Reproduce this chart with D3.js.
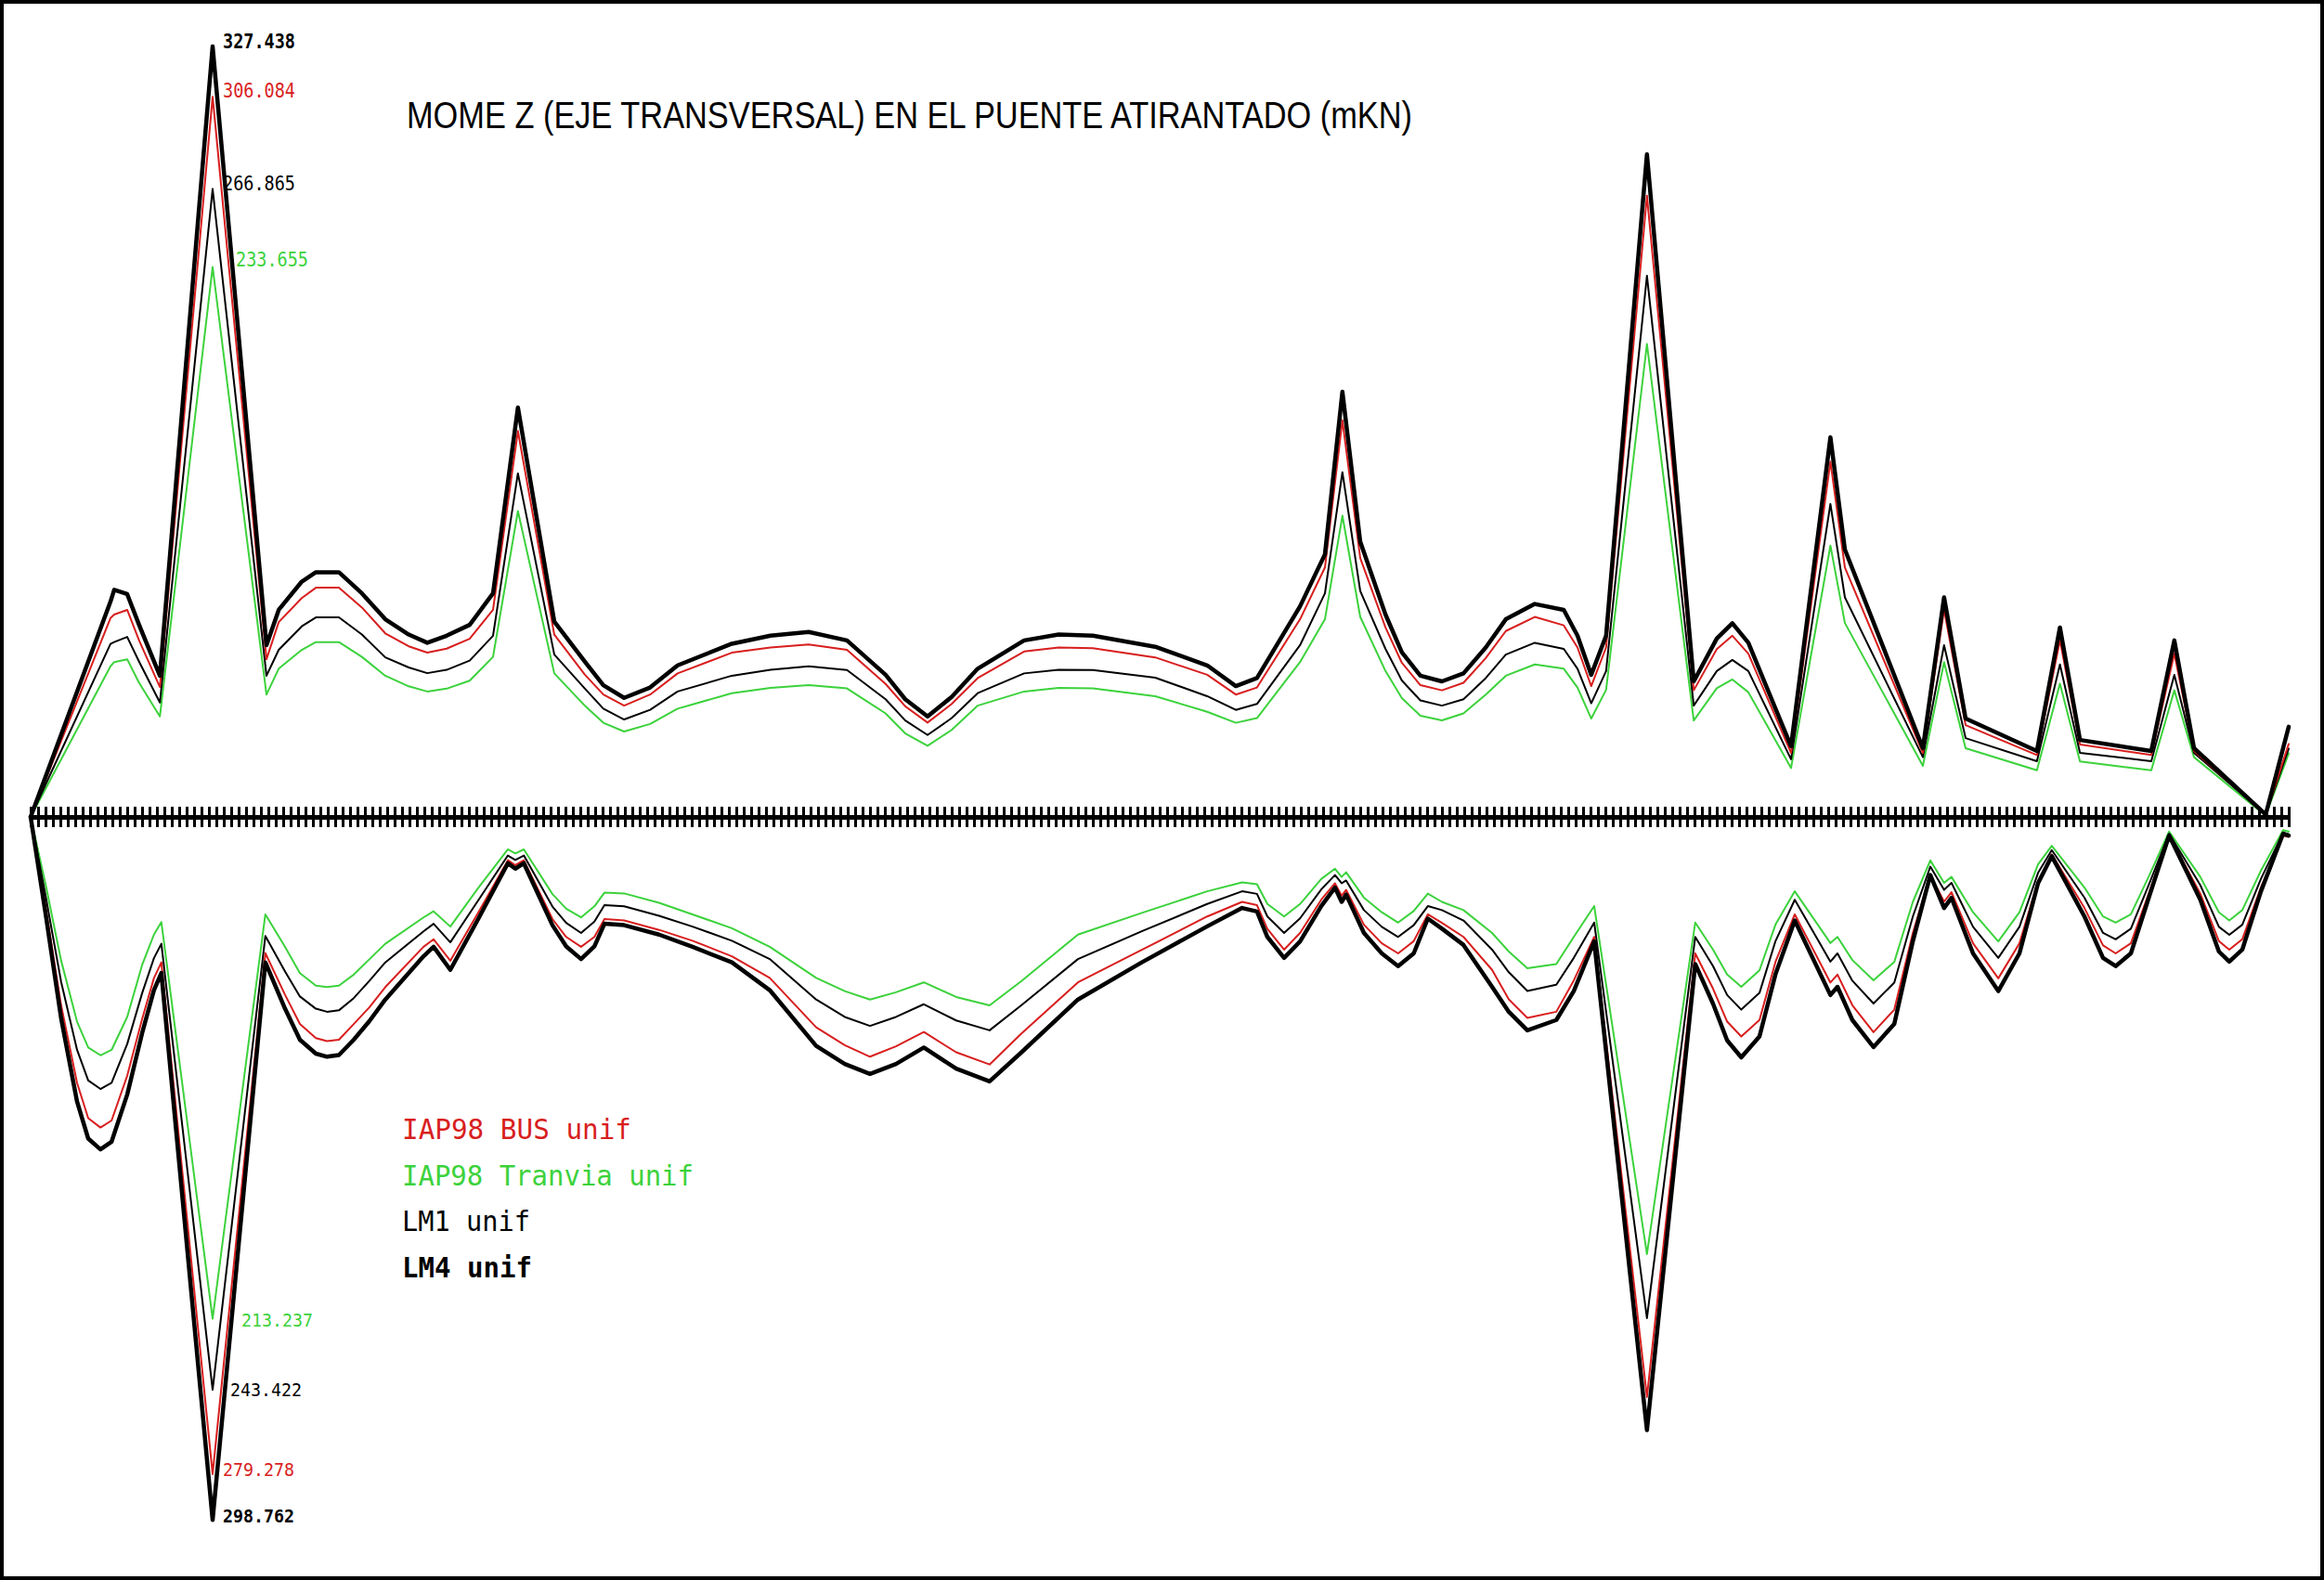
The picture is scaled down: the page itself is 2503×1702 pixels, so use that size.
<!DOCTYPE html>
<html><head><meta charset="utf-8">
<script src="https://cdn.jsdelivr.net/npm/d3@7"></script>
<style>html,body{margin:0;padding:0;background:#fff;} svg{display:block;}</style>
</head><body>
<svg id="chart" width="2503" height="1702"></svg>
<script>
// ---------------- DATA ----------------
const chartTitle = "MOME Z (EJE TRANSVERSAL) EN EL PUENTE ATIRANTADO (mKN)";
const seriesNames = ["IAP98 BUS unif", "IAP98 Tranvia unif", "LM1 unif", "LM4 unif"];
const nodeCount = 304;   // number of element divisions along the deck

// Positive envelope (max) – station in node units
const topStation = [0,10.75,11.25,13,14.6,17.4,24.5,31.75,33.4,36.5,38.4,41.5,44.6,47.75,50.9,53.4,56,59.1,62.25,65.6,70.5,74.6,77.1,79.9,83.4,87.1,94.4,99.6,104.75,109.9,115.1,117.75,120.75,124,127.5,133.75,138.4,143,151.4,158.4,162.25,165.1,170.9,174.25,176.6,179,182.4,184.6,187.1,190,192.9,195.9,198.6,202.5,206.4,208.25,210.1,212.1,217.6,223.9,227,229.1,231.25,237,242.3,244.25,254.75,257.6,260.5,270.1,273.2,275.9,285.5,288.6,291.25,300.9,304];
const topLM4 = [0,91.5,96.5,94.7,81.6,60,327.438,73,88,100,104,104,95,84,77.5,74,77,81.6,95,174,83,66,56,50.6,55,64.4,73.6,77,78.6,75,60.4,50,42.7,51,63,75,77.5,77,72.3,64.4,55.6,59,89.5,111.6,180.7,117,86,70,60,57.6,61,72,84,90.5,88,77,60.4,77,281.6,57.6,75.8,82.3,74,30,161.3,113.6,29.2,93.3,41.8,28,80.5,32.7,28,75,29.2,1,38.3];
const topBUS = [0,84.5,86,88,75,55.2,306.084,67,82.8,93,97.4,97.4,89,78,72.5,69.8,71.5,75.7,88,164,77.5,60.5,52,47.3,52,61,69.8,72,73.3,71,56.5,47,40.1,48,59,70.3,72,71.7,67.8,60.4,52,55,84,106,168.6,110,80.5,65.5,56,53.8,57,67.5,79,85,81.4,72,55.6,72,264,53.8,71.3,77,69.4,27.2,151,106,27.2,88,39,26.3,75,30.8,26.3,69.4,28,1,31];
const topLM1 = [0,73.5,74.3,76.5,66,48.6,266.865,60,71,81,84.8,84.8,77.5,67.8,63.5,61.1,62.5,66.4,77,146,69,54.6,46,41.4,45.5,53.3,60,62.5,64,62.4,50,41,34.8,42,52.6,61,62.5,62.4,59.2,51.3,45.5,48,73,95,146.5,96,71.4,58,49.5,47.3,50,59,69,74,71.4,63,48.3,62,230,47.3,62,66.7,62,24.5,133,93.3,25.4,73,33.5,23.7,64.8,27.2,23.7,60.4,27.2,1,29];
const topTranvia = [0,64,65.8,67,57,42.7,233.655,52,63,71,74.3,74.3,68,60,55.5,53.3,54.5,57.9,68,130,61,47.3,40,36.3,39.5,46,52.6,54.8,56,54.6,44,35.5,30.2,37,47.3,53.3,54.8,54.6,51.3,44.7,40,42,65.8,84,128,85,62,50.5,43,41,44,52,60,64.8,63,55,41.8,54,201,41,54.7,58.4,53,20.8,115.3,82.4,21.7,65.8,29.2,19.8,56.6,23.6,19.8,53.8,25.4,0.5,27];

// Negative envelope (min)
const botStation = [0,2.1,4.1,6.25,7.75,9.4,10.9,13,15,16.6,17.6,24.5,31.6,34.25,36.25,38.4,39.9,41.5,43.5,45.6,47.75,52.9,54.25,56.5,60.25,64.25,65.25,66.4,70.25,72.1,74.1,75.9,77.25,79.9,84.6,89.1,94.4,99.5,105.75,109.6,113,116.5,120.25,124.6,129.1,133.4,141,149.6,158.4,163.1,165.1,166.5,168.75,170.9,173.75,175.6,176.5,177.1,179.5,181.9,184.1,186.2,188.1,190,192.9,196.75,199,201.5,205.4,207.75,210.5,217.6,224.1,226.5,228.4,230.3,232.75,234.9,237.5,242.3,243.25,245.25,248.1,250.9,253.4,255.75,257.6,258.6,261.5,264.9,267.75,270.25,272.1,276.5,279,280.7,282.75,285.25,287.9,292.1,294.6,296,297.75,300.25,303.25,304];
const botLM4 = [0,-43,-85.5,-121,-136.7,-141.3,-138,-118,-92,-73.6,-66.3,-298.762,-61.8,-81.5,-94.7,-100.6,-101.9,-101.2,-94.7,-86.8,-77.6,-59.2,-55.2,-65,-43.4,-19.7,-22,-19.7,-46,-55,-60.4,-55,-45.4,-46,-50,-55.2,-61.8,-73.6,-97.3,-105,-109.2,-105,-98,-107,-112.4,-100,-77.6,-61.8,-46.5,-38.7,-40.2,-51,-59.9,-52.9,-37.9,-30,-36.1,-33,-49.3,-58,-63.4,-58,-43.2,-47.5,-54.4,-72.2,-82.8,-90.7,-86.3,-74,-52.9,-260.6,-62.5,-79.4,-95,-102.2,-93.3,-66.9,-44,-75.7,-72.2,-86.3,-97.8,-88,-52.8,-24.7,-38.7,-34.4,-58,-74,-58,-28.2,-16.7,-42.3,-59.9,-63.4,-58,-33.5,-7.9,-35.2,-57.2,-61.5,-56.4,-31.7,-7.1,-7.9];
const botBUS = [0,-40,-80,-113,-128,-132,-129,-110,-86,-68.5,-61.8,-279.278,-57.9,-75.6,-88,-94,-95.3,-94.7,-88,-80.9,-72.3,-55.2,-52,-61.1,-40.7,-18.4,-20.5,-18.4,-43.4,-51,-55.2,-51,-43.4,-44,-48,-52.6,-59.2,-68.4,-89.4,-97,-101.9,-97.5,-91.4,-100,-105.2,-92,-70.3,-56.5,-42.3,-36.1,-37.5,-47.6,-56.4,-49.3,-35.2,-28.2,-33.5,-31,-45.8,-53.7,-58,-52.8,-41.4,-45,-51,-65,-77.5,-85.4,-82.8,-69.5,-51,-246.5,-58,-73,-87,-93.3,-86.3,-61.6,-41.4,-70.4,-67,-80,-91.5,-81.9,-49.3,-24.7,-36,-32,-53.7,-68.6,-53.7,-27.3,-15.9,-38.7,-54.6,-58,-53.7,-31.7,-7.9,-32.6,-52.8,-56.4,-52,-30,-8,-8.5];
const botLM1 = [0,-35,-70,-99,-112,-115.6,-113,-96.5,-75,-60,-53.9,-243.422,-50.6,-65.7,-76.3,-81.5,-82.8,-82.2,-77,-69.7,-61.8,-48.6,-45.4,-53.3,-35.5,-16.4,-18.3,-16.4,-38.1,-45,-49.3,-44.5,-37.5,-38,-42,-46.6,-52.6,-60.4,-77.6,-85,-88.8,-85,-79.6,-86.5,-90.7,-80,-60.4,-48.6,-37,-31.6,-32.7,-42.3,-49.3,-43.1,-30.8,-24.7,-28.2,-27,-39.6,-46.7,-51,-46,-37.9,-39.6,-44,-56.4,-66,-74,-71.3,-59.9,-44.9,-213,-51,-63.4,-75.7,-81.9,-74.8,-52.8,-35.2,-61.5,-58,-69.6,-79.3,-70.4,-42.3,-21.1,-31,-28,-46.7,-59.9,-46.7,-23.8,-14.1,-34.3,-49.3,-52,-47.5,-28.2,-7.1,-29,-46.7,-50.1,-45.8,-26.4,-6.8,-7.4];
const botTranvia = [0,-30,-61,-87,-98,-101.3,-99,-85,-63,-50,-44.7,-213.237,-41.4,-55.2,-66.4,-71.7,-72.3,-71.7,-67,-60.5,-53.9,-42.7,-40.1,-46.6,-30.2,-13.8,-15.5,-13.8,-32.8,-39,-42.7,-38,-32.2,-32.5,-36.5,-41.4,-47.3,-55.2,-68.4,-74,-77.6,-74.5,-70.3,-76.5,-80.1,-69.7,-50,-40.8,-31.6,-27.8,-28.6,-37,-42.3,-37,-26.4,-22,-25.5,-23.5,-34.3,-40.5,-44.9,-40,-32.6,-36.1,-39.6,-49.3,-57.2,-64.3,-62.5,-51,-37.9,-185.8,-44.9,-56.4,-67,-72.2,-65.2,-45.8,-31.6,-53.6,-51,-60.8,-69.4,-61.6,-36.1,-18.5,-28,-25.5,-40.5,-52.9,-40.5,-20.2,-12.3,-30,-42.3,-44.9,-41.4,-24.7,-6.2,-25.5,-40.5,-44,-39.6,-22.9,-5.6,-6.2];

// Extreme value labels (at the first pylon)
const extremeStation = 24.5;
const topExtremeLabels = ["327.438", "306.084", "266.865", "233.655"];
const topExtremeValues = [327.438, 306.084, 266.865, 233.655];
const botExtremeLabels = ["213.237", "243.422", "279.278", "298.762"];
const botExtremeValues = [-213.237, -243.422, -279.278, -298.762];

// ---------------- DRAW ----------------
const W = 2503, H = 1702;
const svg = d3.select("#chart");
svg.append("rect").attr("width", W).attr("height", H).attr("fill", "#fff");

const x = d3.scaleLinear().domain([0, nodeCount]).range([33, 2465]);
const y = d3.scaleLinear().domain([0, 327.438]).range([880, 50]);

const RED = "#d81e1e", GREEN = "#3cd23c", BLACK = "#000";
const styles = {
  "IAP98 BUS unif": {color: RED, width: 2},
  "IAP98 Tranvia unif": {color: GREEN, width: 2},
  "LM1 unif": {color: BLACK, width: 2},
  "LM4 unif": {color: BLACK, width: 4.5}
};

const topSeries = {
  "IAP98 BUS unif": topBUS, "IAP98 Tranvia unif": topTranvia,
  "LM1 unif": topLM1, "LM4 unif": topLM4
};
const botSeries = {
  "IAP98 BUS unif": botBUS, "IAP98 Tranvia unif": botTranvia,
  "LM1 unif": botLM1, "LM4 unif": botLM4
};

const line = d3.line().x(d => x(d[0])).y(d => y(d[1]));
const drawOrder = ["IAP98 Tranvia unif", "LM1 unif", "IAP98 BUS unif", "LM4 unif"];
const gLines = svg.append("g");
drawOrder.forEach(name => {
  const st = styles[name];
  [[topStation, topSeries[name]], [botStation, botSeries[name]]].forEach(([xs, vs]) => {
    gLines.append("path")
      .datum(d3.zip(xs, vs))
      .attr("d", line).attr("fill", "none")
      .attr("stroke", st.color).attr("stroke-width", st.width)
      .attr("stroke-linejoin", "round").attr("stroke-linecap", "round");
  });
});

// Deck axis with node ticks
const axis = d3.axisBottom(x).tickValues(d3.range(0, nodeCount + 1))
  .tickSize(11).tickSizeOuter(0).tickFormat("");
const gAxis = svg.append("g").attr("transform", `translate(0,${y(0)})`).call(axis);
gAxis.select(".domain").attr("stroke", "#000").attr("stroke-width", 5);
gAxis.selectAll(".tick line").attr("y1", -11).attr("y2", 11)
  .attr("stroke", "#000").attr("stroke-width", 3);

// Title
svg.append("text").text(chartTitle)
  .attr("x", 438).attr("y", 138)
  .attr("font-family", "'Liberation Sans', Arial, sans-serif")
  .attr("font-size", 41).attr("fill", "#000")
  .attr("textLength", 1083).attr("lengthAdjust", "spacingAndGlyphs");

// Extreme labels
const mono = "'DejaVu Sans Mono', 'Liberation Mono', monospace";
const topLabelStyle = [
  {color: BLACK, weight: "bold", dx: 11, dy: 2},
  {color: RED, weight: "normal", dx: 11, dy: 1},
  {color: BLACK, weight: "normal", dx: 11, dy: 1},
  {color: GREEN, weight: "normal", dx: 25, dy: -1}
];
topExtremeLabels.forEach((t, i) => {
  const s = topLabelStyle[i];
  svg.append("text").text(t)
    .attr("x", x(extremeStation) + s.dx).attr("y", y(topExtremeValues[i]) + s.dy)
    .attr("font-family", mono).attr("font-size", 22).attr("font-weight", s.weight)
    .attr("fill", s.color)
    .attr("textLength", 78).attr("lengthAdjust", "spacingAndGlyphs");
});
const botLabelStyle = [
  {color: GREEN, weight: "normal", dx: 31, dy: 8},
  {color: BLACK, weight: "normal", dx: 19, dy: 7},
  {color: RED, weight: "normal", dx: 11, dy: 2},
  {color: BLACK, weight: "bold", dx: 11, dy: 3}
];
botExtremeLabels.forEach((t, i) => {
  const s = botLabelStyle[i];
  svg.append("text").text(t)
    .attr("x", x(extremeStation) + s.dx).attr("y", y(botExtremeValues[i]) + s.dy)
    .attr("font-family", mono).attr("font-size", 19).attr("font-weight", s.weight)
    .attr("fill", s.color)
    .attr("textLength", 77).attr("lengthAdjust", "spacingAndGlyphs");
});

// Legend
const legendLen = {"IAP98 BUS unif": 247, "IAP98 Tranvia unif": 314, "LM1 unif": 138, "LM4 unif": 140};
seriesNames.forEach((name, i) => {
  const st = styles[name];
  svg.append("text").text(name)
    .attr("x", 433).attr("y", 1227 + i * 49.5)
    .attr("font-family", mono).attr("font-size", 31)
    .attr("font-weight", name === "LM4 unif" ? "bold" : "normal")
    .attr("fill", st.color)
    .attr("textLength", legendLen[name]).attr("lengthAdjust", "spacingAndGlyphs");
});

// Frame
svg.append("rect").attr("x", 2).attr("y", 2).attr("width", W - 4).attr("height", H - 4)
  .attr("fill", "none").attr("stroke", "#000").attr("stroke-width", 4);
</script>
</body></html>
